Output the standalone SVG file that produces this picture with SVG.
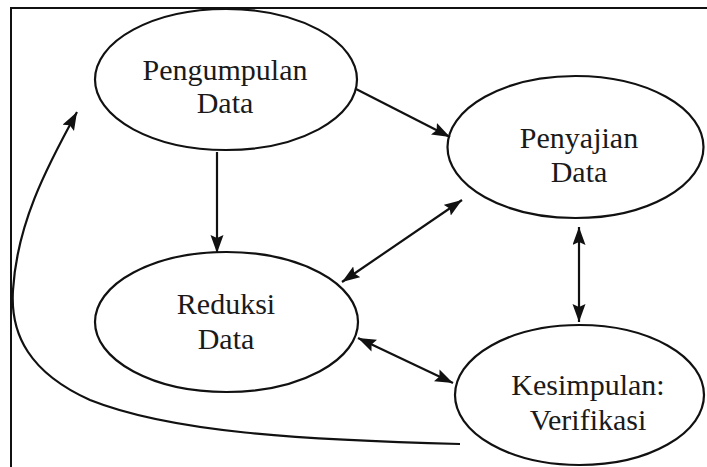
<svg xmlns="http://www.w3.org/2000/svg" width="707" height="467" viewBox="0 0 707 467">
<defs>
<style>
.node ellipse{fill:none;stroke:#111;stroke-width:2.2}
.node text{font-size:30px;fill:#1a1a1a;text-anchor:middle}
.conn{fill:none;stroke:#111;stroke-width:2.2}
</style>
<marker id="ah" markerUnits="userSpaceOnUse" markerWidth="20" markerHeight="14" refX="18" refY="6.5" orient="auto-start-reverse" viewBox="0 0 20 14">
<path d="M0,0 L18,6.5 L0,13 L3,6.5 z" fill="#111"/>
</marker>
</defs>
<rect x="0" y="0" width="707" height="467" fill="#fff"/>
<path d="M11,480 L11,8 L720,8" fill="none" stroke="#111" stroke-width="2"/>
<g id="pengumpulan" class="node" font-family="'Liberation Serif', 'DejaVu Serif', serif">
<ellipse cx="226" cy="79.5" rx="131" ry="70.5"/>
<text x="225" y="80">Pengumpulan</text>
<text x="225" y="113">Data</text>
</g>
<g id="penyajian" class="node" font-family="'Liberation Serif', 'DejaVu Serif', serif">
<ellipse cx="575.5" cy="147" rx="128" ry="71"/>
<text x="579" y="148">Penyajian</text>
<text x="579" y="182">Data</text>
</g>
<g id="reduksi" class="node" font-family="'Liberation Serif', 'DejaVu Serif', serif">
<ellipse cx="226.5" cy="322" rx="131.5" ry="70"/>
<text x="226" y="314">Reduksi</text>
<text x="226" y="349">Data</text>
</g>
<g id="kesimpulan" class="node" font-family="'Liberation Serif', 'DejaVu Serif', serif">
<ellipse cx="579.5" cy="395" rx="124.5" ry="70"/>
<text x="588" y="395">Kesimpulan:</text>
<text x="588" y="430">Verifikasi</text>
</g>
<g id="connectors">
<line class="conn" x1="356" y1="89" x2="450" y2="137" marker-end="url(#ah)"/>
<line class="conn" x1="217" y1="152" x2="217" y2="253" marker-end="url(#ah)"/>
<line class="conn" x1="342" y1="282" x2="462" y2="200" marker-start="url(#ah)" marker-end="url(#ah)"/>
<line class="conn" x1="579" y1="227" x2="579" y2="322" marker-start="url(#ah)" marker-end="url(#ah)"/>
<line class="conn" x1="358" y1="338" x2="453" y2="383" marker-start="url(#ah)" marker-end="url(#ah)"/>
<path class="conn" stroke-width="2.8" d="M460,444 C300,440 170,432 90,400 C30,373 10,335 13,290 C17,225 45,170 77,112" marker-end="url(#ah)"/>
</g>
</svg>
